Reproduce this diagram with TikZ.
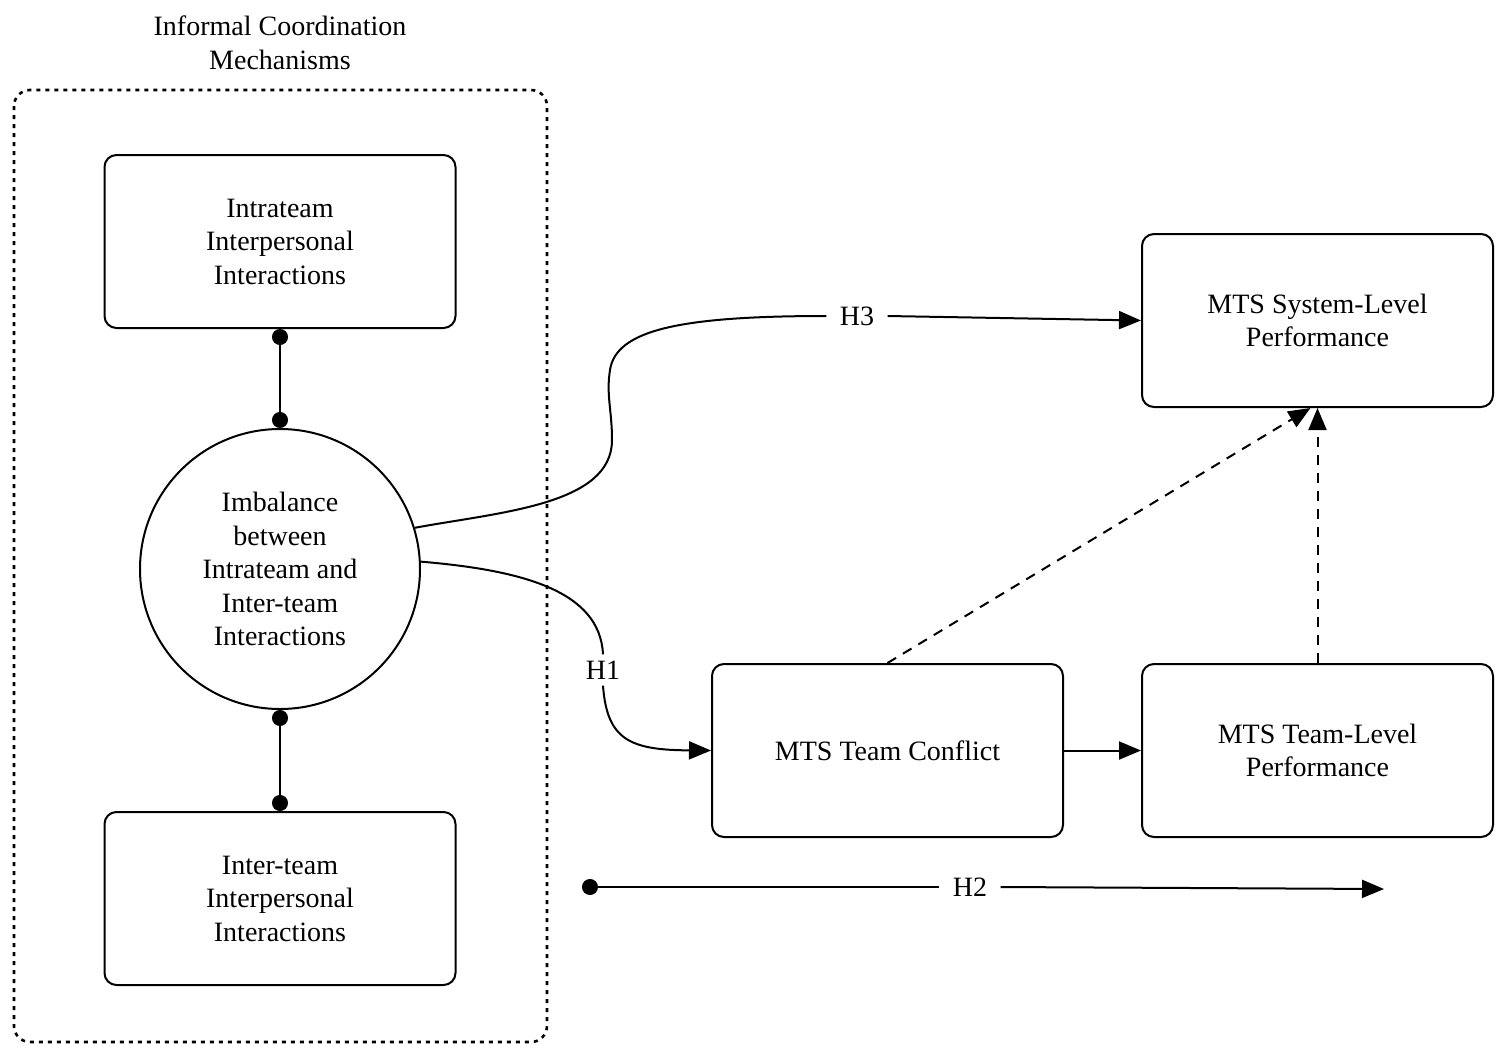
\documentclass[tikz,border=0pt]{standalone}
\usepackage{fontspec}
\setmainfont{Liberation Serif}
\usetikzlibrary{arrows.meta}
\begin{document}
\begin{tikzpicture}[x=0.5pt,y=-0.5pt,
  txt/.style={font=\fontsize{14}{16.75}\selectfont, align=center},
  box/.style={txt, draw, line width=1pt, rounded corners=6pt, minimum width=175.5pt, minimum height=86.5pt, inner sep=0pt},
  lbl/.style={txt, inner xsep=6.5pt, inner ysep=3pt},
  conn/.style={line width=1pt},
  arr/.style={conn, -{Triangle[length=11pt,width=9pt]}},
  dashconn/.style={arr, dash pattern=on 5pt off 4pt},
  dots/.style={conn, {Circle[length=8pt]}-{Circle[length=8pt]}}
]
\useasboundingbox (0,0) rectangle (1500,1045);
% group
\draw[line width=1.3pt, dash pattern=on 2pt off 2.5pt, rounded corners=8pt] (14,90) rectangle (547,1042);
\node[txt] (title) at (280,43) {Informal Coordination\\Mechanisms};
% nodes
\node[box] (intra) at (280,241.5) {Intrateam\\Interpersonal\\Interactions};
\node[box] (inter) at (280,898.5) {Inter-team\\Interpersonal\\Interactions};
\node[txt, circle, draw, line width=1pt, minimum size=140pt, inner sep=0pt] (c) at (280,569) {Imbalance\\between\\Intrateam and\\Inter-team\\Interactions};
\node[box] (sys) at (1317.5,320.5) {MTS System-Level\\Performance};
\node[box] (conf) at (887.5,750.5) {MTS Team Conflict};
\node[box] (team) at (1317.5,750.5) {MTS Team-Level\\Performance};
% labels
\node[lbl] (h3) at (857,316) {H3};
\node[lbl] (h1) at (603,670) {H1};
\node[lbl] (h2) at (970,887) {H2};
\coordinate (h2s) at (582,887);
\coordinate (h2e) at (1384,889);
% connectors
\draw[dots] (intra.south) -- (c.north);
\draw[dots] (c.south) -- (inter.north);
\draw[conn] (c.17) .. controls (500,512) and (612,505) .. (612,440)
  .. controls (612,410) and (606,395) .. (610,370)
  .. controls (616,330) and (680,316) .. (h3.west);
\draw[arr] (h3.east) -- (sys.west);
\draw[conn] (c.3) .. controls (520,570) and (600,590) .. (h1.north);
\draw[arr] (h1.south) .. controls (607,740) and (630,750) .. (conf.west);
\draw[arr] (conf.east) -- (team.west);
\draw[dashconn] (conf.north) -- ([xshift=-3.5pt]sys.south);
\draw[dashconn] (team.north) -- (sys.south);
\draw[conn, {Circle[length=8pt]}-] (h2s) -- (h2.west);
\draw[arr] (h2.east) -- (h2e);
\end{tikzpicture}
\end{document}
